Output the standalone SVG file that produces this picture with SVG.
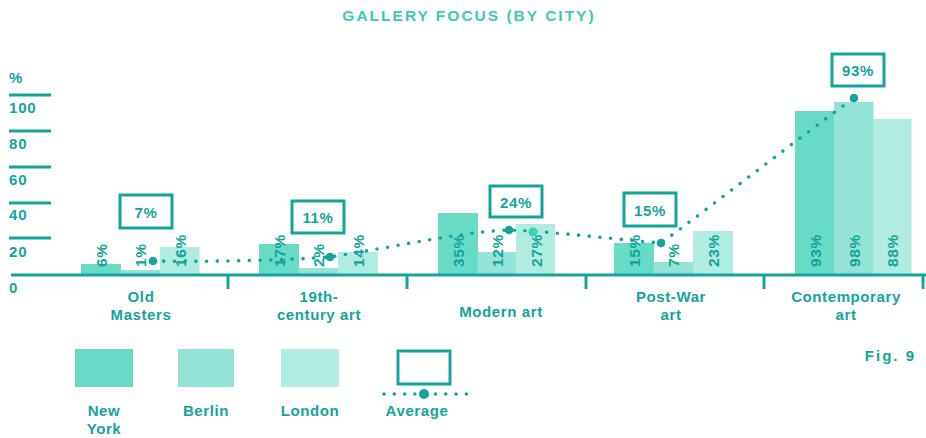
<svg xmlns="http://www.w3.org/2000/svg" width="926" height="438" viewBox="0 0 926 438">
<style>
text{font-family:"Liberation Sans",Arial,sans-serif;font-weight:bold;fill:#13a49c}
.title{fill:#3ccbb0;font-size:15.5px;letter-spacing:2px}
.ax{font-size:15px;letter-spacing:0.8px}
.cat{font-size:15px;letter-spacing:0.6px;text-anchor:middle}
.val{font-size:15.5px;letter-spacing:0.6px;dominant-baseline:central}
.avg{font-size:15px;letter-spacing:0.6px;text-anchor:middle;dominant-baseline:central}
.ny{fill:#68dbc6}.be{fill:#93e3d6}.lo{fill:#b1ece1}
.line{stroke:#13a49c;stroke-width:3;fill:none}
.box{stroke:#13a49c;stroke-width:3;fill:#fff}
.dots{stroke:#13a49c;stroke-width:3.6;fill:none;stroke-linecap:round;stroke-dasharray:0 10.7}
.dot{fill:#13a49c}
</style>
<text class="title" x="469" y="21" text-anchor="middle">GALLERY FOCUS (BY CITY)</text>
<g id="y-axis">
<text class="ax" x="9" y="83">%</text>
<line class="line" x1="9" y1="95" x2="51" y2="95"/>
<text class="ax" x="9" y="113">100</text>
<line class="line" x1="9" y1="131" x2="51" y2="131"/>
<text class="ax" x="9" y="149">80</text>
<line class="line" x1="9" y1="167" x2="51" y2="167"/>
<text class="ax" x="9" y="185">60</text>
<line class="line" x1="9" y1="203" x2="51" y2="203"/>
<text class="ax" x="9" y="220">40</text>
<line class="line" x1="9" y1="238" x2="51" y2="238"/>
<text class="ax" x="9" y="257">20</text>
<text class="ax" x="9" y="293">0</text>
</g>
<g id="bars">
<rect class="ny" x="81" y="264" width="40" height="11"/>
<rect class="be" x="120.5" y="270" width="40" height="5"/>
<rect class="lo" x="160" y="247" width="39.5" height="28"/>
<rect class="ny" x="259" y="244" width="40" height="31"/>
<rect class="be" x="298.5" y="268" width="40" height="7"/>
<rect class="lo" x="338" y="252" width="40" height="23"/>
<rect class="ny" x="438" y="213" width="40" height="62"/>
<rect class="be" x="477.5" y="252" width="40" height="23"/>
<rect class="lo" x="516" y="224" width="39" height="51"/>
<rect class="ny" x="614" y="243" width="40" height="32"/>
<rect class="be" x="653.5" y="262" width="40" height="13"/>
<rect class="lo" x="693" y="231" width="40" height="44"/>
<rect class="ny" x="795" y="111" width="39.5" height="164"/>
<rect class="be" x="834" y="102" width="39.5" height="173"/>
<rect class="lo" x="873" y="119" width="38.5" height="156"/>
</g>
<g id="bar-values">
<text class="val" transform="translate(101,267) rotate(-90)">6%</text>
<text class="val" transform="translate(140.5,267) rotate(-90)">1%</text>
<text class="val" transform="translate(180,267) rotate(-90)">16%</text>
<text class="val" transform="translate(279,267) rotate(-90)">17%</text>
<text class="val" transform="translate(318.5,267) rotate(-90)">2%</text>
<text class="val" transform="translate(358,267) rotate(-90)">14%</text>
<text class="val" transform="translate(458,267) rotate(-90)">35%</text>
<text class="val" transform="translate(497.5,267) rotate(-90)">12%</text>
<text class="val" transform="translate(536,267) rotate(-90)">27%</text>
<text class="val" transform="translate(634,267) rotate(-90)">15%</text>
<text class="val" transform="translate(673.5,267) rotate(-90)">7%</text>
<text class="val" transform="translate(713,267) rotate(-90)">23%</text>
<text class="val" transform="translate(815,267) rotate(-90)">93%</text>
<text class="val" transform="translate(854,267) rotate(-90)">98%</text>
<text class="val" transform="translate(892,267) rotate(-90)">88%</text>
</g>
<g id="x-axis">
<line class="line" x1="11" y1="275" x2="926" y2="275"/>
<line class="line" x1="228" y1="275" x2="228" y2="289"/>
<line class="line" x1="407" y1="275" x2="407" y2="289"/>
<line class="line" x1="586" y1="275" x2="586" y2="289"/>
<line class="line" x1="764" y1="275" x2="764" y2="289"/>
<line class="line" x1="923" y1="275" x2="923" y2="289"/>
</g>
<g id="categories">
<text class="cat" x="141" y="302">Old</text>
<text class="cat" x="141" y="320">Masters</text>
<text class="cat" x="319" y="302">19th-</text>
<text class="cat" x="319" y="320">century art</text>
<text class="cat" x="501" y="317">Modern art</text>
<text class="cat" x="671" y="302">Post-War</text>
<text class="cat" x="671" y="320">art</text>
<text class="cat" x="846" y="302">Contemporary</text>
<text class="cat" x="846" y="320">art</text>
</g>
<g id="connectors">
<path class="dots" d="M153,261 C220,262 290,260 330,257 C400,246 460,232 509,230 C560,232 620,240 661,243 C672,236 820,122 854,98"/>
</g>
<circle cx="533" cy="232" r="4.5" fill="#3fd0b6"/>
<g id="avg-old"><rect class="box" x="120" y="195" width="52" height="33"/><text class="avg" x="146" y="212">7%</text><circle class="dot" cx="153" cy="261" r="4.3"/></g>
<g id="avg-19th"><rect class="box" x="292" y="201" width="52" height="32"/><text class="avg" x="318" y="217">11%</text><circle class="dot" cx="330" cy="257" r="4.3"/></g>
<g id="avg-modern"><rect class="box" x="490" y="186" width="52" height="31"/><text class="avg" x="516" y="202">24%</text><circle class="dot" cx="509" cy="230" r="4.3"/></g>
<g id="avg-postwar"><rect class="box" x="624" y="193" width="52" height="33"/><text class="avg" x="650" y="210">15%</text><circle class="dot" cx="661" cy="243" r="4.3"/></g>
<g id="avg-contemporary"><rect class="box" x="832" y="54" width="52" height="32"/><text class="avg" x="858" y="70">93%</text><circle class="dot" cx="854" cy="98" r="4.3"/></g>
<g id="legend">
<rect class="ny" x="75" y="349" width="58" height="38"/>
<rect class="be" x="178" y="349" width="56" height="38"/>
<rect class="lo" x="281" y="349" width="58" height="38"/>
<rect class="box" x="398" y="351" width="52" height="33"/>
<path class="dots" d="M384,394 H467" style="stroke-dasharray:0 10.3"/>
<circle class="dot" cx="424" cy="394" r="5"/>
<text class="cat" x="104" y="416">New</text>
<text class="cat" x="104" y="434">York</text>
<text class="cat" x="206" y="416">Berlin</text>
<text class="cat" x="310" y="416">London</text>
<text class="cat" x="417" y="416">Average</text>
</g>
<text x="916" y="361" text-anchor="end" style="font-size:15px;letter-spacing:2px">Fig. 9</text>
</svg>
